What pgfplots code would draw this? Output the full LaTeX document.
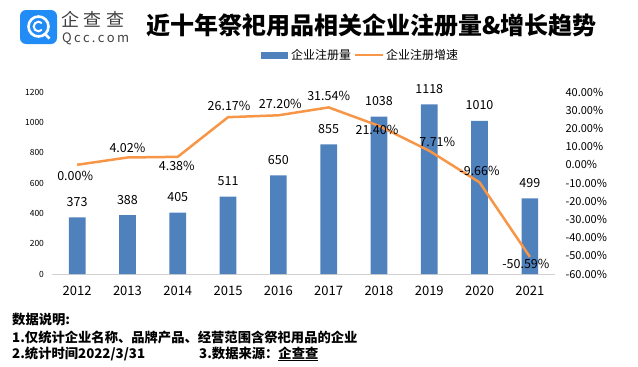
\documentclass[border=0pt]{standalone}
\usepackage{fontspec}
\setmainfont{Noto Sans CJK SC}
\usepackage{pgfplots}
\pgfplotsset{compat=1.18}
\usepackage{pgfplotstable}
\usetikzlibrary{calc}
\definecolor{barblue}{RGB}{79,129,189}
\definecolor{lineorange}{RGB}{247,150,70}
\definecolor{logoblue}{RGB}{33,140,245}
\pgfplotstableread{
x count rate dx dy
0 373 0.00 -2 -11
1 388 4.02 0 10
2 405 4.38 -1 -9
3 511 26.17 1 11
4 650 27.20 2 11
5 855 31.54 0 11
6 1038 21.40 -2 -4
7 1118 7.71 8 9
8 1010 -9.66 0 11
9 499 -50.59 -4 -7
}\datatable
\begin{document}
\begin{tikzpicture}
\path[use as bounding box] (0pt,0pt) rectangle (638pt,-367pt);
% logo
\fill[logoblue, rounded corners=6pt] (20pt,-10pt) rectangle (57pt,-44pt);
\draw[white, line width=2.6pt] (38.5pt,-26.5pt) circle (10pt);
\draw[white, line width=2pt] ($(38.5pt,-26.5pt)+(45:4.8pt)$) arc (45:315:4.8pt);
\draw[white, line width=2.6pt] (44.5pt,-33.5pt) -- (49.5pt,-38.5pt);
\node[anchor=west, inner sep=0pt, text=black!75, font=\fontsize{18}{20}\selectfont] at (61pt,-19.5pt) {企\hspace{4.5pt}查\hspace{4.5pt}查};
\node[anchor=west, inner sep=0pt, text=black!75, font=\fontsize{13}{15}\selectfont] at (62pt,-38.5pt) {Q\hspace{2.3pt}c\hspace{2.3pt}c\hspace{2.3pt}.\hspace{2.3pt}c\hspace{2.3pt}o\hspace{2.3pt}m};
% title
\node[anchor=west, inner sep=0pt, font=\bfseries\fontsize{24}{26}\selectfont] at (146pt,-25pt) {近十年祭祀用品相关企业注册量\&增长趋势};
% legend
\fill[barblue] (261pt,-52pt) rectangle (288pt,-58.5pt);
\node[anchor=west, inner sep=0pt, font=\fontsize{12}{14}\selectfont] at (291pt,-55pt) {企业注册量};
\draw[lineorange, line width=2.5pt] (355pt,-55pt) -- (383pt,-55pt);
\node[anchor=west, inner sep=0pt, font=\fontsize{12}{14}\selectfont] at (386pt,-55pt) {企业注册增速};
% bars
\begin{axis}[
  at={(52pt,-274pt)}, anchor=south west,
  scale only axis, width=503pt, height=182pt,
  xmin=-0.5, xmax=9.5, ymin=0, ymax=1200,
  axis x line*=bottom, axis y line*=left,
  x axis line style={draw=black!18, line width=0.8pt, -},
  y axis line style={draw=none},
  ytick={0,200,...,1200},
  xtick={0,...,9},
  xticklabels={2012,2013,2014,2015,2016,2017,2018,2019,2020,2021},
  major tick length=0pt,
  /pgf/number format/assume math mode=true,
  /pgf/number format/1000 sep={},
  yticklabel style={font=\fontsize{8.5}{10}\selectfont, xshift=-4.5pt},
  xticklabel style={font=\fontsize{13}{15}\selectfont, yshift=-9pt},
  ybar, bar width=16.7pt,
  nodes near coords,
  every node near coord/.append style={font=\fontsize{12.5}{14}\selectfont, text=black, anchor=center, yshift=15.5pt},
]
\addplot[fill=barblue, draw=none] table[x=x,y=count]{\datatable};
\end{axis}
% growth line
\begin{axis}[
  at={(52pt,-274pt)}, anchor=south west,
  scale only axis, width=503pt, height=182pt,
  xmin=-0.5, xmax=9.5, ymin=-60, ymax=40,
  axis y line*=right, axis x line=none,
  y axis line style={draw=none},
  ytick={-60,-50,...,40},
  major tick length=0pt,
  /pgf/number format/assume math mode=true,
  yticklabel={\pgfmathprintnumber[fixed,fixed zerofill,precision=2]{\tick}\%},
  yticklabel style={font=\fontsize{11}{13}\selectfont, anchor=west, xshift=7pt},
  visualization depends on={\thisrow{dx} \as \dx},
  visualization depends on={\thisrow{dy} \as \dy},
  nodes near coords={\pgfmathprintnumber[fixed,fixed zerofill,precision=2]{\pgfplotspointmeta}\%},
  every node near coord/.append style={font=\fontsize{12.5}{14}\selectfont, text=black, anchor=center, xshift=\dx pt, yshift=\dy pt},
]
\addplot[lineorange, line width=2.5pt, line join=round, mark=none] table[x=x,y=rate]{\datatable};
\end{axis}
% notes
\node[anchor=west, inner sep=0pt, font=\bfseries\fontsize{13.3}{15}\selectfont] at (12pt,-319pt) {数据说明:};
\node[anchor=west, inner sep=0pt, font=\bfseries\fontsize{13.3}{15}\selectfont] at (12pt,-337pt) {1.仅统计企业名称、品牌产品、经营范围含祭祀用品的企业};
\node[anchor=west, inner sep=0pt, font=\bfseries\fontsize{13.3}{15}\selectfont] at (12pt,-354pt) {2.统计时间2022/3/31};
\node[anchor=west, inner sep=0pt, font=\bfseries\fontsize{13.3}{15}\selectfont] at (199pt,-354pt) {3.数据来源：\underline{企查查}};
\end{tikzpicture}
\end{document}
